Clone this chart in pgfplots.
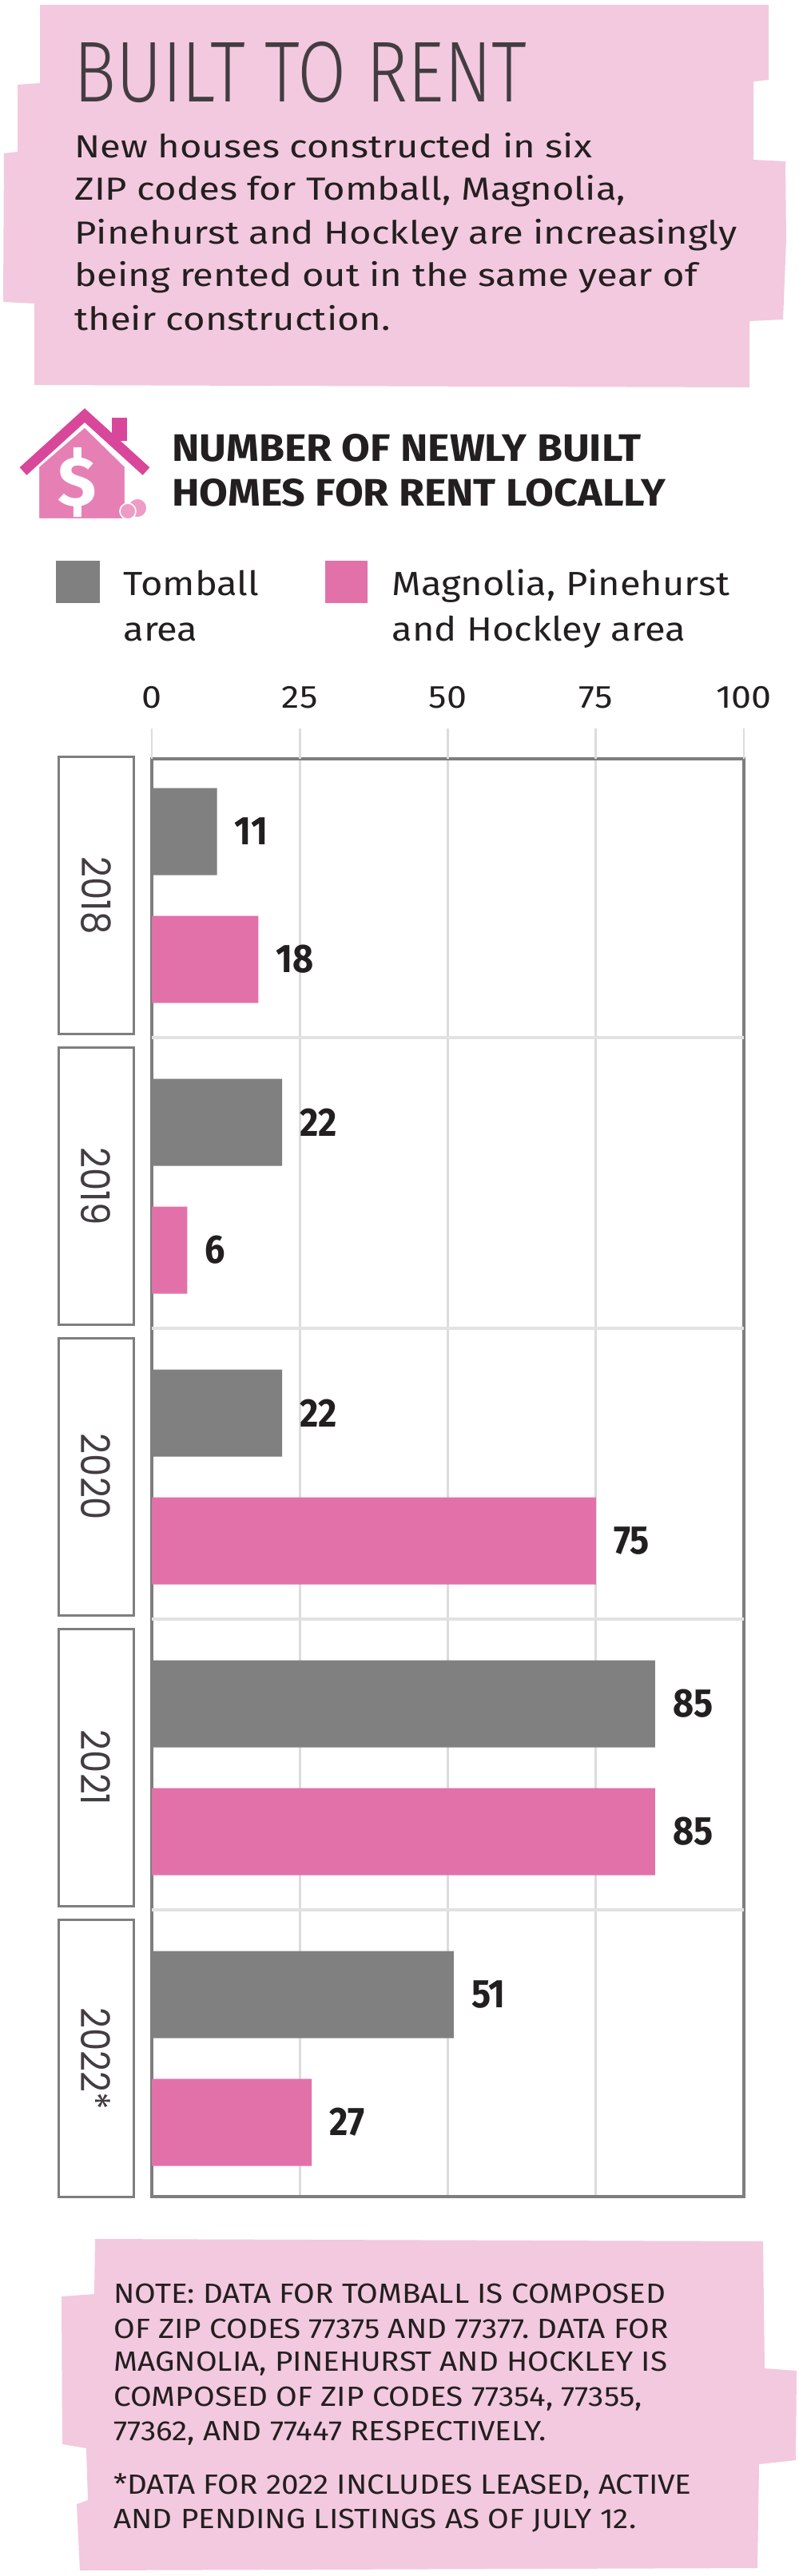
\documentclass[border=0pt]{standalone}
\usepackage{fontspec}
\usepackage{pgfplots}
\usepackage{pgfplotstable}
\pgfplotsset{compat=1.18}

\setmainfont{Fira Sans}
\newfontfamily\titlefont{Fira Sans Light}
\newfontfamily\condfont[FakeStretch=0.9]{Fira Sans}
\newfontfamily\yearfont[FakeStretch=0.9]{Poppins}
\newcommand\fs[1]{\fontsize{#1}{#1}\selectfont}
\frenchspacing

% horizontal scale that makes a sample line as wide as in the reference
\newsavebox\measurebox
\newcommand\setfit[3]{\sbox\measurebox{#3}\pgfmathsetmacro#1{#2/\the\wd\measurebox}}

\definecolor{boxpink}{HTML}{F3C9DF}
\definecolor{barpink}{HTML}{E271AA}
\definecolor{bargray}{HTML}{808080}
\definecolor{framegray}{HTML}{7E7E7E}
\definecolor{gridgray}{HTML}{DCDCDC}
\definecolor{sepgray}{HTML}{E2E2E2}
\definecolor{ink}{HTML}{231F20}
\definecolor{titleink}{HTML}{433D42}
\definecolor{roofpink}{HTML}{D8479A}
\definecolor{housepink}{HTML}{E680B4}
\definecolor{coinpink}{HTML}{EE9CC6}

% newly built homes for rent, idx 5 = 2018 ... 1 = 2022
\pgfplotstableread{
idx tom mag
5 11 18
4 22 6
3 22 75
2 85 85
1 51 27
}\rentdata

\begin{document}%
\setfit{\titlesx}{283.5}{\titlefont\fs{54pt}BUILT TO RENT}%
\setfit{\subsx}{414.5}{\fs{20pt}Pinehurst and Hockley are increasingly}%
\setfit{\headsx}{309}{\bfseries\fs{24pt}HOMES FOR RENT LOCALLY}%
\setfit{\legsx}{211.5}{\fs{21pt}Magnolia, Pinehurst}%
\setfit{\notesx}{345.5}{\fs{17.4pt}NOTE: DATA FOR TOMBALL IS COMPOSED}%
\begin{tikzpicture}
\path[use as bounding box, fill=white] (0,0) rectangle (500pt,-1612.5pt);

% header box
\fill[boxpink] (25pt,-3pt) -- (481pt,-3pt) -- (481pt,-50pt) -- (471.5pt,-51pt) -- (471.5pt,-100pt)
  -- (491.5pt,-101pt) -- (492pt,-150pt) -- (490pt,-200pt) -- (469pt,-201pt) -- (469pt,-242.5pt)
  -- (21.5pt,-241pt) -- (21.5pt,-190pt) -- (2pt,-189pt) -- (2.5pt,-96pt) -- (11pt,-95pt)
  -- (11pt,-53pt) -- (25pt,-52pt) -- cycle;

\node[anchor=base west, inner sep=0, text=titleink, font=\titlefont\fs{54pt}] at (46pt,-63.5pt) {\scalebox{\titlesx}[1]{BUILT TO RENT}};
\begin{scope}[every node/.style={anchor=base west, inner sep=0, text=ink, font=\fs{20pt}}]
\node at (46.5pt,-98.5pt) {\scalebox{\subsx}[1]{New houses constructed in six}};
\node at (46.5pt,-125pt) {\scalebox{\subsx}[1]{ZIP codes for Tomball, Magnolia,}};
\node at (46.5pt,-152.5pt) {\scalebox{\subsx}[1]{Pinehurst and Hockley are increasingly}};
\node at (46.5pt,-179pt) {\scalebox{\subsx}[1]{being rented out in the same year of}};
\node at (46.5pt,-206.5pt) {\scalebox{\subsx}[1]{their construction.}};
\end{scope}

% icon
\fill[housepink, draw=white, line width=1.2pt] (24pt,-325pt) -- (24pt,-292pt) -- (53pt,-267pt) -- (78.5pt,-292pt) -- (78.5pt,-325pt) -- cycle;
\fill[roofpink] (70pt,-261.5pt) rectangle (79.5pt,-276pt);
\draw[roofpink, line width=6.5pt, line join=miter] (14.5pt,-295pt) -- (53pt,-260pt) -- (91.5pt,-295pt);
\node[text=white, font=\bfseries\fs{44pt}, inner sep=0] at (48.5pt,-302pt) {\$};
\fill[coinpink, draw=white, line width=0.8pt] (86pt,-318pt) circle (6pt);
\fill[coinpink, draw=white, line width=0.8pt] (80pt,-320pt) circle (5pt);

\begin{scope}[every node/.style={anchor=base west, inner sep=0, text=ink, font=\bfseries\fs{24pt}}]
\node at (107.5pt,-288.5pt) {\scalebox{\headsx}[1]{NUMBER OF NEWLY BUILT}};
\node at (107.5pt,-316.5pt) {\scalebox{\headsx}[1]{HOMES FOR RENT LOCALLY}};
\end{scope}

% legend
\fill[bargray] (35pt,-351pt) rectangle (62.5pt,-377.5pt);
\fill[barpink] (203.5pt,-351pt) rectangle (230pt,-377.5pt);
\begin{scope}[every node/.style={anchor=base west, inner sep=0, text=ink, font=\fs{21pt}}]
\node at (77pt,-372.5pt) {\scalebox{\legsx}[1]{Tomball}};
\node at (77pt,-401pt) {\scalebox{\legsx}[1]{area}};
\node at (245pt,-372.5pt) {\scalebox{\legsx}[1]{Magnolia, Pinehurst}};
\node at (245pt,-401pt) {\scalebox{\legsx}[1]{and Hockley area}};
\end{scope}

\begin{axis}[
  at={(95pt,-1375pt)}, anchor=south west,
  scale only axis, width=370.5pt, height=900pt,
  xmin=0, xmax=100, ymin=0.525, ymax=5.47,
  clip=false,
  xbar, bar width=54.5pt,
  axis line style={draw=framegray, line width=1.6pt},
  xtick={0,25,50,75,100}, xticklabel pos=upper,
  xticklabel={\scalebox{1.12}[1]{\pgfmathprintnumber{\tick}}},
  major tick length=0pt,
  xmajorgrids, grid style={draw=gridgray, line width=1.3pt},
  ytick={1,2,3,4,5}, yticklabels={2022*,2021,2020,2019,2018},
  /pgf/number format/assume math mode=true,
  x tick label style={anchor=base, yshift=32pt, text=ink, font=\fs{20pt}},
  y tick label style={xshift=-35pt, rotate=-90, anchor=center, text=titleink, font=\yearfont\fs{25pt}},
  nodes near coords,
  every node near coord/.append style={anchor=west, xshift=11pt, inner sep=0pt, text=ink, font=\condfont\bfseries\fs{25pt}},
]
\addplot[fill=bargray, draw=none, bar shift=40pt] table[x=tom, y=idx] {\rentdata};
\addplot[fill=barpink, draw=none, bar shift=-40pt] table[x=mag, y=idx] {\rentdata};

\draw[sepgray, line width=2pt] (axis cs:0,4.51) -- (axis cs:100,4.51);
\draw[sepgray, line width=2pt] (axis cs:0,3.51) -- (axis cs:100,3.51);
\draw[sepgray, line width=2pt] (axis cs:0,2.51) -- (axis cs:100,2.51);
\draw[sepgray, line width=2pt] (axis cs:0,1.51) -- (axis cs:100,1.51);

\pgfplotsinvokeforeach{0,25,50,75,100}{
  \draw[gridgray, line width=1.3pt] (axis cs:#1,5.47) -- ++(0pt,19pt);
}

\draw[framegray, line width=1.5pt] ([xshift=-58.5pt]axis cs:0,4.5234) rectangle ([xshift=-11.5pt]axis cs:0,5.4766);
\draw[framegray, line width=1.5pt] ([xshift=-58.5pt]axis cs:0,3.5234) rectangle ([xshift=-11.5pt]axis cs:0,4.4766);
\draw[framegray, line width=1.5pt] ([xshift=-58.5pt]axis cs:0,2.5234) rectangle ([xshift=-11.5pt]axis cs:0,3.4766);
\draw[framegray, line width=1.5pt] ([xshift=-58.5pt]axis cs:0,1.5234) rectangle ([xshift=-11.5pt]axis cs:0,2.4766);
\draw[framegray, line width=1.5pt] ([xshift=-58.5pt]axis cs:0,0.5234) rectangle ([xshift=-11.5pt]axis cs:0,1.4766);
\end{axis}

% note box
\fill[boxpink] (59.5pt,-1401.5pt) -- (477.5pt,-1403pt) -- (478.5pt,-1482.5pt) -- (498.5pt,-1484pt)
  -- (498pt,-1540pt) -- (475pt,-1542.5pt) -- (474pt,-1607.5pt) -- (50pt,-1609pt) -- (48pt,-1567.5pt)
  -- (55pt,-1565pt) -- (54pt,-1532.5pt) -- (39pt,-1530pt) -- (38.5pt,-1437.5pt) -- (59pt,-1436pt) -- cycle;
\begin{scope}[every node/.style={anchor=base west, inner sep=0, text=ink, font=\fs{17.4pt}}]
\node at (71pt,-1441.5pt) {\scalebox{\notesx}[1]{NOTE: DATA FOR TOMBALL IS COMPOSED}};
\node at (71pt,-1463.5pt) {\scalebox{\notesx}[1]{OF ZIP CODES 77375 AND 77377. DATA FOR}};
\node at (71pt,-1484pt) {\scalebox{\notesx}[1]{MAGNOLIA, PINEHURST AND HOCKLEY IS}};
\node at (71pt,-1506pt) {\scalebox{\notesx}[1]{COMPOSED OF ZIP CODES 77354, 77355,}};
\node at (71pt,-1527.5pt) {\scalebox{\notesx}[1]{77362, AND 77447 RESPECTIVELY.}};
\node at (71pt,-1561pt) {\scalebox{\notesx}[1]{*DATA FOR 2022 INCLUDES LEASED, ACTIVE}};
\node at (71pt,-1582.5pt) {\scalebox{\notesx}[1]{AND PENDING LISTINGS AS OF JULY 12.}};
\end{scope}
\end{tikzpicture}%
\end{document}
